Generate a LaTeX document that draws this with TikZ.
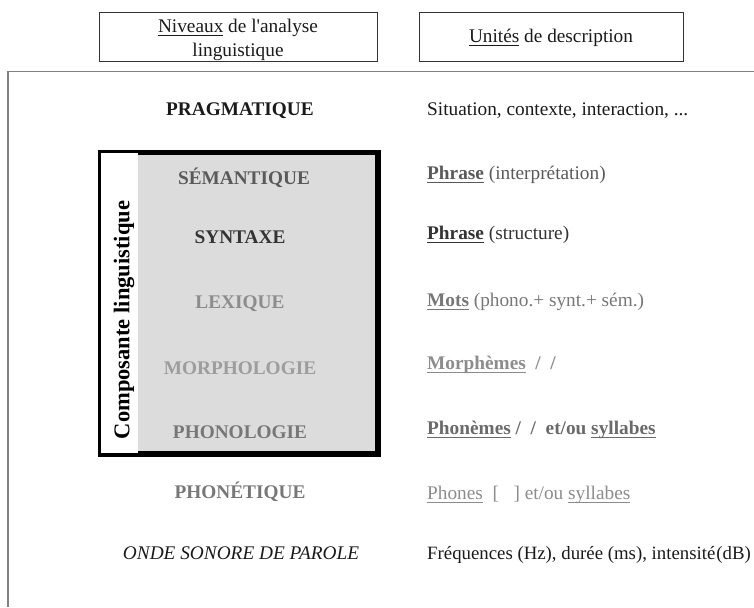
\documentclass[tikz,border=0pt]{standalone}
\usepackage{fontspec}
\setmainfont{Liberation Serif}
\newcommand{\myul}[1]{\setbox0=\hbox{#1}\rlap{\raisebox{-3.6pt}{\rule{\wd0}{1.1pt}}}\box0\relax}
\newcommand{\straightq}{{\addfontfeatures{Ligatures=TeXOff}'}}
\definecolor{framegray}{HTML}{808080}
\definecolor{boxgray}{HTML}{DCDCDC}
\definecolor{tA}{HTML}{1A1A1A}
\definecolor{tB}{HTML}{333333}
\definecolor{tC}{HTML}{5A5A5A}
\definecolor{tD}{HTML}{777777}
\definecolor{tE}{HTML}{8C8C8C}
\definecolor{tF}{HTML}{6A6A6A}
\begin{document}
\begin{tikzpicture}[x=1pt,y=-1pt,
  every node/.style={inner sep=0pt, font=\fontsize{19.3}{23}\selectfont},
  headbox/.style={draw=tB, line width=1pt},
  lvl/.style={anchor=base, font=\fontsize{19.3}{23}\selectfont\bfseries},
  unit/.style={anchor=base west},
  frame/.style={draw=framegray, line width=1.6pt}]
\useasboundingbox (0,0) rectangle (754,607);

% header boxes
\node[headbox, minimum width=278pt, minimum height=49pt] (hl) at (238,37.5) {};
\node[align=center, text=tA] (hltext) at (238,39.5)
  {\myul{Niveaux} de l\straightq analyse\\[1pt]linguistique};
\node[headbox, minimum width=264pt, minimum height=49pt, text=tA] (hr) at (551,37.5)
  {\myul{Unités} de description};

% outer frame
\coordinate (ftl) at (8,71.5);
\coordinate (ftr) at (754,71.5);
\coordinate (fbl) at (8,607);
\draw[frame] (ftr) -- (ftl) -- (fbl);

% linguistic component box
\node[draw=black, line width=3.5pt, fill=boxgray, minimum width=276pt, minimum height=300pt] (comp) at (239,303) {};
\fill[white] ([xshift=2pt,yshift=-2pt]comp.north west) rectangle ([xshift=39pt,yshift=2pt]comp.south west);
\draw[black, line width=3.5pt] (comp.north west) rectangle (comp.south east);
\node[rotate=90, font=\fontsize{22.5}{26}\selectfont\bfseries, text=black] (complab) at (124,320) {Composante linguistique};

% levels
\node[lvl, text=tA] (prag) at (240,116) {PRAGMATIQUE};
\node[lvl, text=tC] (sem)  at (244,184) {SÉMANTIQUE};
\node[lvl, text=tB] (syn)  at (240,243) {SYNTAXE};
\node[lvl, text=tE] (lex)  at (240,308) {LEXIQUE};
\node[lvl, text=tE!85!white] (morph) at (240,374) {MORPHOLOGIE};
\node[lvl, text=tD] (phonol) at (240,438) {PHONOLOGIE};
\node[lvl, text=tD] (phonet) at (240,498) {PHONÉTIQUE};
\node[anchor=base, text=tA, font=\fontsize{19.3}{23}\selectfont\itshape] (onde) at (241,559) {ONDE SONORE DE PAROLE};

% units
\node[unit, text=tA] (u1) at (427,116) {Situation, contexte, interaction, ...};
\node[unit, text=tC] (u2) at (427,179) {\textbf{\myul{Phrase}} (interprétation)};
\node[unit, text=tB] (u3) at (427,239) {\textbf{\myul{Phrase}} (structure)};
\node[unit, text=tD] (u4) at (427,306) {\textbf{\myul{Mots}} (phono.+ synt.+ sém.)};
\node[unit, text=tE] (u5) at (427,369) {\textbf{\myul{Morphèmes}\ \ /\ \ /}};
\node[unit, text=tF] (u6) at (427,434) {\textbf{\myul{Phonèmes} /\ \ /\ \ et/ou \myul{syllabes}}};
\node[unit, text=tE] (u7) at (427,499) {\myul{Phones}\ \ [\ \ \ ] et/ou \myul{syllabes}};
\node[unit, text=tA, font=\fontsize{18.8}{23}\selectfont] (u8) at (427,559) {Fréquences (Hz), durée (ms), intensité\kern1pt(dB)};
\end{tikzpicture}
\end{document}
